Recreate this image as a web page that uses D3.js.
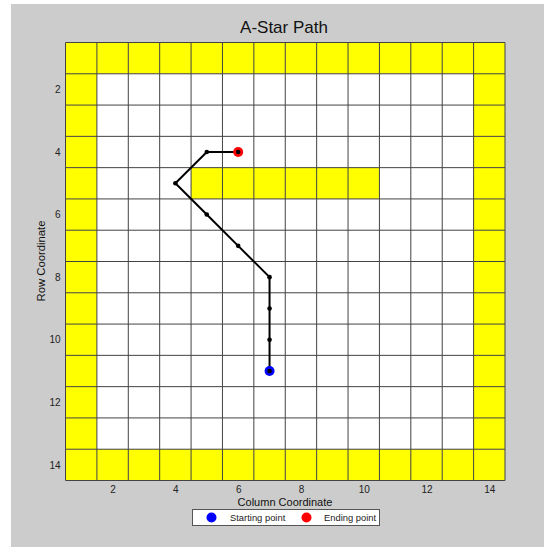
<!DOCTYPE html>
<html><head><meta charset="utf-8">
<script src="https://cdn.jsdelivr.net/npm/d3@7"></script>
<style>body{margin:0;background:#fff;}svg{display:block;font-family:"Liberation Sans",Arial,sans-serif;}</style>
</head><body><svg id="c" width="544" height="547"></svg>
<script>
const nCols = 14, nRows = 14;
const obstacleRows = [1, 14];          // full yellow rows
const obstacleCols = [1, 14];          // full yellow columns
const wallCells = [[5,5],[6,5],[7,5],[8,5],[9,5],[10,5]]; // [col,row]
const pathCols = [7, 7, 7, 7, 6, 5, 4, 5, 6];
const pathRows = [11, 10, 9, 8, 7, 6, 5, 4, 4];
const xTicks = [2, 4, 6, 8, 10, 12, 14];
const yTicks = [2, 4, 6, 8, 10, 12, 14];
const legendLabels = ["Starting point", "Ending point"];

const svg = d3.select("#c");
svg.append("rect").attr("x", 11).attr("y", 4).attr("width", 533).attr("height", 543).attr("fill", "#cccccc");

const L = 65.5, R = 505, T = 42.5, B = 480.5;
const x = d3.scaleLinear().domain([0.5, 14.5]).range([L, R]);
const y = d3.scaleLinear().domain([0.5, 14.5]).range([T, B]);

const cells = [];
for (let r = 1; r <= nRows; r++) for (let c = 1; c <= nCols; c++) {
  const obst = obstacleRows.includes(r) || obstacleCols.includes(c) || wallCells.some(w => w[0] === c && w[1] === r);
  cells.push({c, r, obst});
}
svg.append("g").selectAll("rect").data(cells).join("rect")
  .attr("x", d => x(d.c - 0.5)).attr("y", d => y(d.r - 0.5))
  .attr("width", d => x(d.c + 0.5) - x(d.c - 0.5)).attr("height", d => y(d.r + 0.5) - y(d.r - 0.5))
  .attr("fill", d => d.obst ? "#ffff00" : "#ffffff");

// grid lines
const g = svg.append("g").attr("stroke", "#444").attr("stroke-width", 1);
for (let i = 0; i <= nCols; i++) g.append("line").attr("x1", x(i + 0.5)).attr("x2", x(i + 0.5)).attr("y1", T).attr("y2", B);
for (let i = 0; i <= nRows; i++) g.append("line").attr("y1", y(i + 0.5)).attr("y2", y(i + 0.5)).attr("x1", L).attr("x2", R);

// axes
const xa = svg.append("g").attr("transform", `translate(0,${B})`)
  .call(d3.axisBottom(x).tickValues(xTicks).tickSize(0).tickPadding(5));
xa.select(".domain").remove();
xa.selectAll("text").attr("font-size", 10).attr("fill", "#222").attr("font-family", "Liberation Sans, Arial, sans-serif");
const ya = svg.append("g").attr("transform", `translate(${L},0)`)
  .call(d3.axisLeft(y).tickValues(yTicks).tickSize(0).tickPadding(5));
ya.select(".domain").remove();
ya.selectAll("text").attr("font-size", 10).attr("fill", "#222").attr("font-family", "Liberation Sans, Arial, sans-serif");

svg.append("text").attr("x", 284).attr("y", 33).attr("text-anchor", "middle").attr("font-size", 17).attr("fill", "#111").text("A-Star Path");
svg.append("text").attr("x", 285).attr("y", 505.5).attr("text-anchor", "middle").attr("font-size", 11).attr("fill", "#111").text("Column Coordinate");
svg.append("text").attr("transform", "translate(44.5,261) rotate(-90)").attr("text-anchor", "middle").attr("font-size", 11.3).attr("fill", "#111").text("Row Coordinate");

// path
const pts = pathCols.map((c, i) => [c, pathRows[i]]);
svg.append("path").datum(pts)
  .attr("d", d3.line().x(d => x(d[0])).y(d => y(d[1])))
  .attr("fill", "none").attr("stroke", "#000").attr("stroke-width", 2);
svg.append("circle").attr("cx", x(pts[0][0])).attr("cy", y(pts[0][1])).attr("r", 5).attr("fill", "#0000ff");
svg.append("circle").attr("cx", x(pts[pts.length-1][0])).attr("cy", y(pts[pts.length-1][1])).attr("r", 5).attr("fill", "#ff0000");
svg.append("g").selectAll("circle").data(pts).join("circle")
  .attr("cx", d => x(d[0])).attr("cy", d => y(d[1])).attr("r", 2.3).attr("fill", "#000");

// legend
const lg = svg.append("g");
lg.append("rect").attr("x", 192.5).attr("y", 509.5).attr("width", 187).attr("height", 16).attr("fill", "#fff").attr("stroke", "#555").attr("stroke-width", 1);
const legColors = ["#0000ff", "#ff0000"];
const legMX = [211.5, 306.5], legTX = [230, 324];
legendLabels.forEach((t, i) => {
  lg.append("circle").attr("cx", legMX[i]).attr("cy", 517.5).attr("r", 5).attr("fill", legColors[i]);
  lg.append("text").attr("x", legTX[i]).attr("y", 521).attr("font-size", 9.4).attr("fill", "#222").text(t);
});
</script></body></html>
